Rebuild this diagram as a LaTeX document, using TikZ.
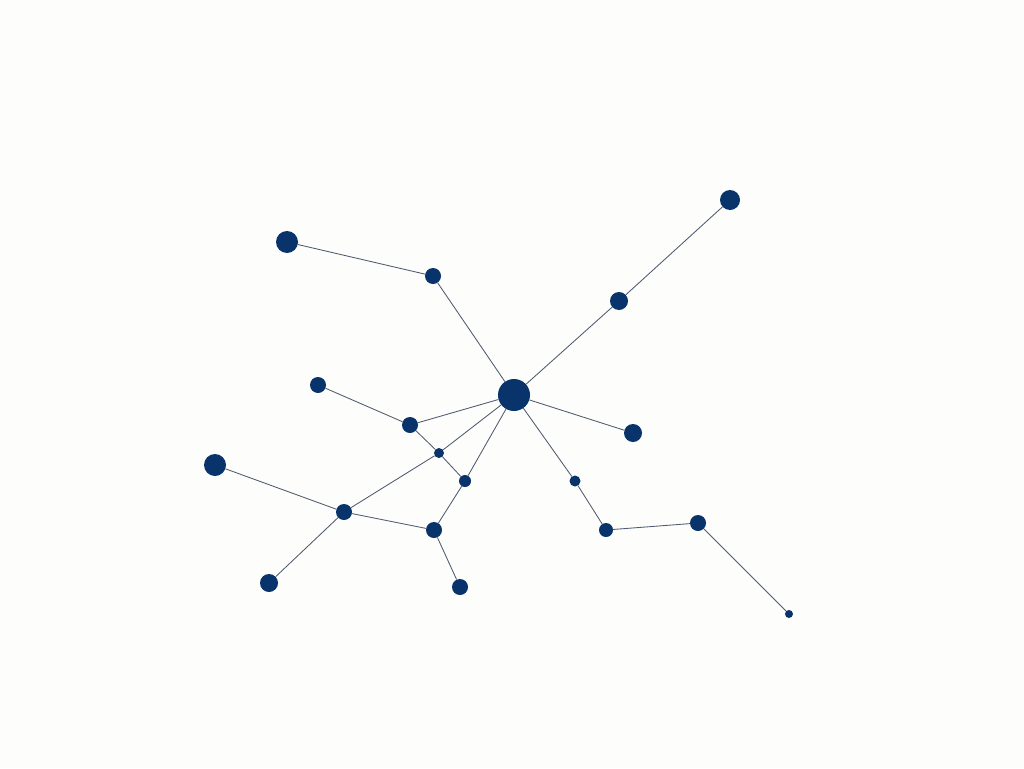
\documentclass[tikz,border=0pt]{standalone}
\definecolor{nodeblue}{HTML}{08336B}
\definecolor{edgegray}{HTML}{505A6E}
\definecolor{bg}{HTML}{FDFDFB}
\begin{document}
\begin{tikzpicture}[x=1pt,y=-1pt,
  dot/.style={circle,fill=nodeblue,inner sep=0pt,draw=none},
  link/.style={draw=edgegray,line width=0.85pt}]
\fill[bg] (0,0) rectangle (1024,768);
\useasboundingbox (0,0) rectangle (1024,768);
\node[dot,minimum size=32pt] (H) at (514,395) {};
\node[dot,minimum size=22pt] (A) at (287,242) {};
\node[dot,minimum size=16pt] (B) at (433,276) {};
\node[dot,minimum size=20pt] (C) at (730,200) {};
\node[dot,minimum size=18pt] (D) at (619,301) {};
\node[dot,minimum size=16pt] (E) at (318,385) {};
\node[dot,minimum size=16pt] (F) at (410,425) {};
\node[dot,minimum size=10pt] (G) at (439,453) {};
\node[dot,minimum size=12pt] (I) at (465,481) {};
\node[dot,minimum size=22pt] (J) at (215,465) {};
\node[dot,minimum size=16pt] (K) at (344,512) {};
\node[dot,minimum size=16pt] (L) at (434,530) {};
\node[dot,minimum size=18pt] (M) at (269,583) {};
\node[dot,minimum size=16pt] (N) at (460,587) {};
\node[dot,minimum size=18pt] (O) at (633,433) {};
\node[dot,minimum size=11pt] (P) at (575,481) {};
\node[dot,minimum size=14pt] (Q) at (606,530) {};
\node[dot,minimum size=16pt] (R) at (698,523) {};
\node[dot,minimum size=8pt] (S) at (789,614) {};
\path[link] (A) -- (B) (B) -- (H) (H) -- (D) (D) -- (C)
  (E) -- (F) (F) -- (H) (F) -- (G) (G) -- (I) (G) -- (H) (I) -- (H)
  (I) -- (L) (K) -- (G) (J) -- (K) (K) -- (L) (K) -- (M) (L) -- (N)
  (H) -- (O) (H) -- (P) (P) -- (Q) (Q) -- (R) (R) -- (S);
\end{tikzpicture}
\end{document}
